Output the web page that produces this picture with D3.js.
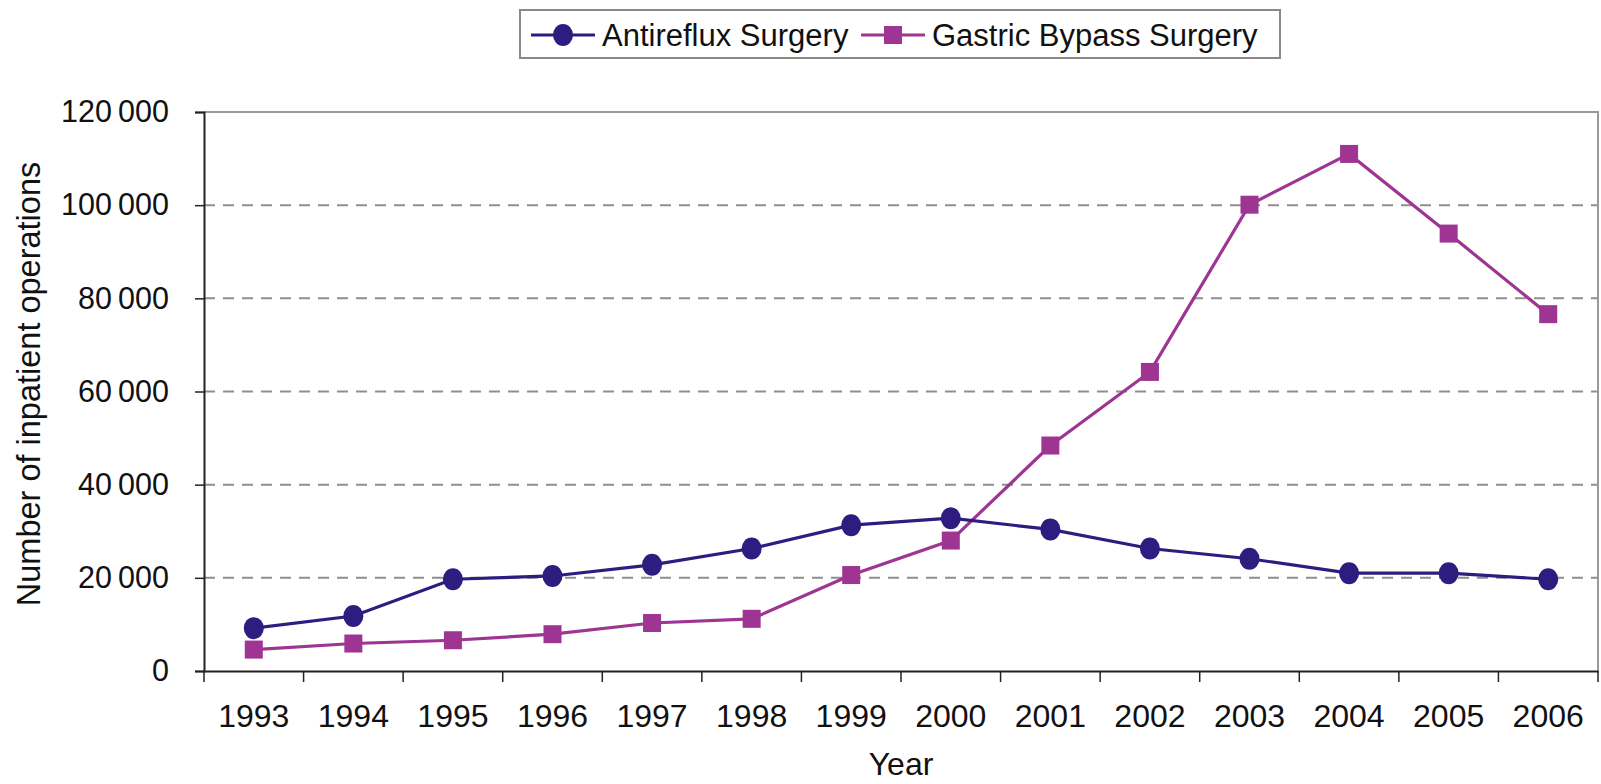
<!DOCTYPE html>
<html lang="en">
<head>
    <meta charset="UTF-8">
    <title>Inpatient operations</title>
    <script src="https://d3js.org/d3.v7.min.js"></script>
    <style>
        body { margin: 0; background: #fff; }
        text { font-family: "Liberation Sans", Arial, sans-serif; fill: #111; }
    </style>
</head>
<body>
    <div id="chart"></div>
    <script>
        // data
        const years = [1993, 1994, 1995, 1996, 1997, 1998, 1999, 2000, 2001, 2002, 2003, 2004, 2005, 2006];
        const antireflux = [9200, 11800, 19700, 20400, 22800, 26300, 31300, 32800, 30400, 26300, 24100, 21000, 21000, 19700];
        const gastricBypass = [4600, 5900, 6600, 7900, 10300, 11200, 20600, 28000, 48400, 64200, 100100, 111000, 93900, 76600];
        const yTicks = [0, 20000, 40000, 60000, 80000, 100000, 120000];
        const seriesNames = ["Antireflux Surgery", "Gastric Bypass Surgery"];
        const seriesColors = ["#2e1c80", "#9e3592"];

        const width = 1601, height = 784;
        const plotLeft = 204, plotRight = 1598, plotTop = 112, plotBottom = 671;
        const fontSize = 31;

        const svg = d3.select("#chart").append("svg")
            .attr("width", width)
            .attr("height", height);

        const x = d3.scaleBand().domain(years).range([plotLeft, plotRight]);
        const y = d3.scaleLinear().domain([0, 120000]).range([plotBottom, plotTop]);

        // gridlines
        svg.append("g")
            .selectAll("line")
            .data(yTicks.filter(d => d > 0 && d < 120000))
            .join("line")
            .attr("x1", plotLeft).attr("x2", plotRight)
            .attr("y1", d => y(d)).attr("y2", d => y(d))
            .attr("stroke", "#8f8f8f")
            .attr("stroke-width", 2)
            .attr("stroke-dasharray", "11,8");

        // top and right border of the plot area
        svg.append("path")
            .attr("d", `M${plotLeft},${y(120000)}H${plotRight}V${plotBottom}`)
            .attr("fill", "none")
            .attr("stroke", "#9a9a9a")
            .attr("stroke-width", 2);

        // y axis
        const fmt = d3.format(",");
        const yAxis = svg.append("g")
            .attr("transform", `translate(${plotLeft},0)`)
            .call(d3.axisLeft(y).tickValues(yTicks).tickSize(9).tickPadding(26)
                .tickFormat(d => fmt(d).replace(/,/g, "\u2009")));
        yAxis.select(".domain").attr("stroke", "#222").attr("stroke-width", 2);
        yAxis.selectAll(".tick line").attr("stroke", "#222").attr("stroke-width", 1.5);
        yAxis.selectAll("text").attr("font-size", 30.5).style("font-family", "Liberation Sans, Arial, sans-serif").attr("fill", "#111");

        // x axis: labels at band centres, ticks at band edges
        const xAxis = svg.append("g")
            .attr("transform", `translate(0,${plotBottom})`)
            .call(d3.axisBottom(x).tickSize(0).tickPadding(33));
        xAxis.select(".domain").attr("stroke", "#222").attr("stroke-width", 2);
        xAxis.selectAll("text").attr("font-size", fontSize + 1).style("font-family", "Liberation Sans, Arial, sans-serif").attr("fill", "#111");

        const edges = years.map(d => x(d)).concat([x(years[years.length - 1]) + x.bandwidth()]);
        svg.append("g")
            .selectAll("line")
            .data(edges)
            .join("line")
            .attr("x1", d => d).attr("x2", d => d)
            .attr("y1", plotBottom).attr("y2", plotBottom + 11)
            .attr("stroke", "#222")
            .attr("stroke-width", 1.5);

        // axis titles
        svg.append("text")
            .attr("x", 901)
            .attr("y", 775)
            .attr("text-anchor", "middle")
            .attr("font-size", fontSize + 1)
            .text("Year");

        svg.append("text")
            .attr("transform", `translate(40,384) rotate(-90)`)
            .attr("text-anchor", "middle")
            .attr("font-size", 32.5)
            .text("Number of inpatient operations");

        // lines and markers
        const cx = d => x(d) + x.bandwidth() / 2;
        const line = d3.line().x(d => cx(d.year)).y(d => y(d.value));
        const series = [antireflux, gastricBypass].map((vals, i) => ({
            name: seriesNames[i],
            color: seriesColors[i],
            points: years.map((yr, j) => ({ year: yr, value: vals[j] }))
        }));

        // gastric first so antireflux sits on top like the reference
        [series[1], series[0]].forEach(s => {
            svg.append("path")
                .datum(s.points)
                .attr("d", line)
                .attr("fill", "none")
                .attr("stroke", s.color)
                .attr("stroke-width", 3.2);
        });

        svg.append("g")
            .selectAll("rect")
            .data(series[1].points)
            .join("rect")
            .attr("x", d => cx(d.year) - 9)
            .attr("y", d => y(d.value) - 9)
            .attr("width", 18)
            .attr("height", 18)
            .attr("fill", series[1].color);

        svg.append("g")
            .selectAll("ellipse")
            .data(series[0].points)
            .join("ellipse")
            .attr("cx", d => cx(d.year))
            .attr("cy", d => y(d.value))
            .attr("rx", 10)
            .attr("ry", 11)
            .attr("fill", series[0].color);

        // legend
        const legend = svg.append("g");
        legend.append("rect")
            .attr("x", 520).attr("y", 10)
            .attr("width", 760).attr("height", 48)
            .attr("fill", "#fff")
            .attr("stroke", "#8a8a8a")
            .attr("stroke-width", 2);

        const legendX = [531, 861];
        series.forEach((s, i) => {
            const lx = legendX[i];
            const g = legend.append("g");
            g.append("line")
                .attr("x1", lx).attr("x2", lx + 64)
                .attr("y1", 35).attr("y2", 35)
                .attr("stroke", s.color)
                .attr("stroke-width", 3.2);
            if (i === 0) {
                g.append("ellipse")
                    .attr("cx", lx + 32).attr("cy", 35)
                    .attr("rx", 10).attr("ry", 11)
                    .attr("fill", s.color);
            } else {
                g.append("rect")
                    .attr("x", lx + 32 - 9).attr("y", 35 - 9)
                    .attr("width", 18).attr("height", 18)
                    .attr("fill", s.color);
            }
            g.append("text")
                .attr("x", lx + 71)
                .attr("y", 46)
                .attr("font-size", fontSize)
                .text(s.name);
        });
    </script>
</body>
</html>
